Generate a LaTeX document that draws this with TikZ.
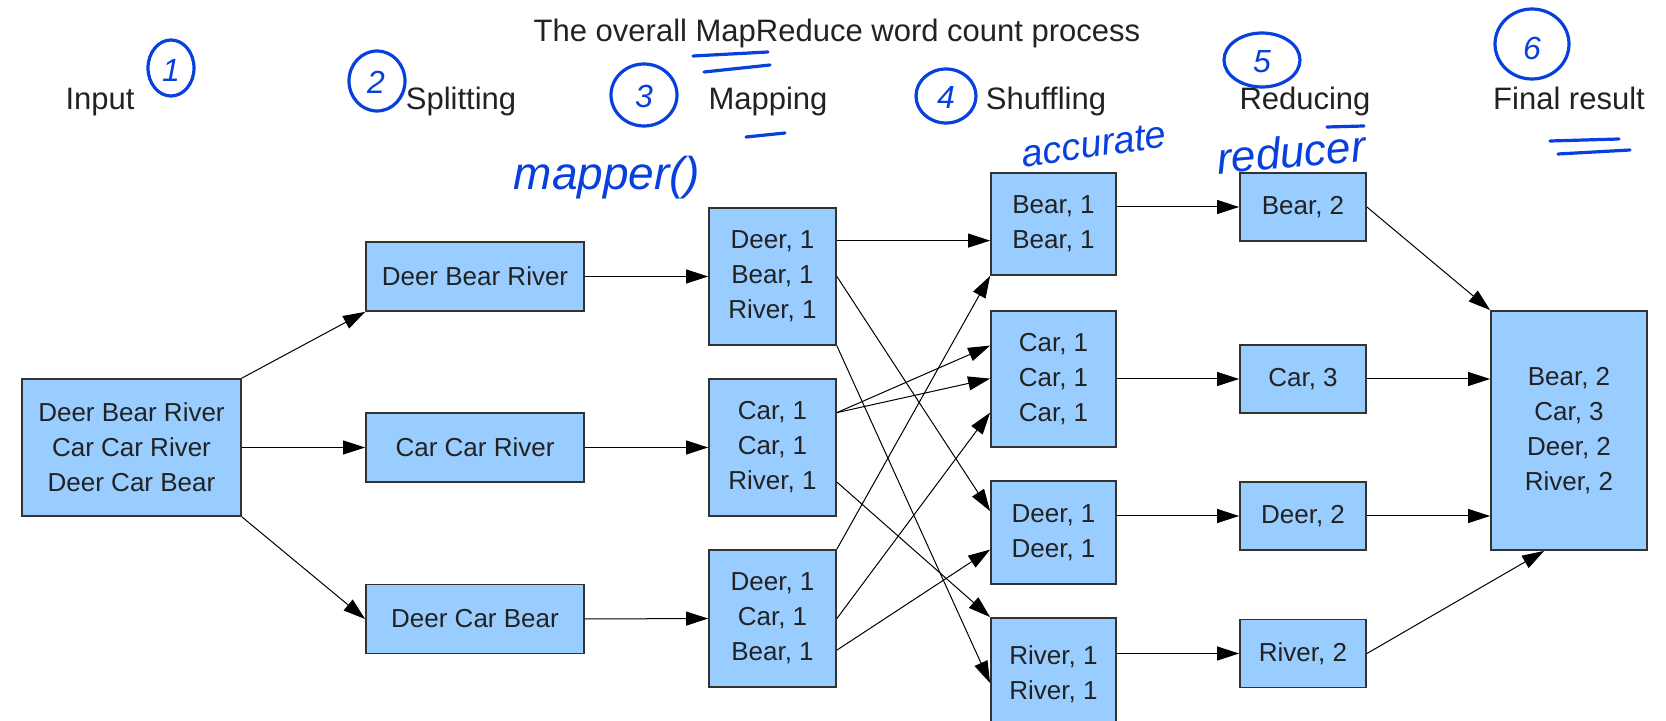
\documentclass[tikz,border=0pt]{standalone}
\usepackage{fontspec}
\setmainfont{Liberation Sans}
\usetikzlibrary{arrows.meta,calc}
\definecolor{boxfill}{HTML}{99CCFF}
\definecolor{boxline}{HTML}{333333}
\definecolor{ink}{HTML}{222222}
\definecolor{hand}{RGB}{8,64,222}
\begin{document}
\begin{tikzpicture}[x=0.5pt,y=-0.5pt,
  box/.style={draw=boxline,fill=boxfill,line width=0.9pt,inner sep=0pt,align=center,text=ink,font=\fontsize{13}{17.5}\selectfont},
  arr/.style={-{Triangle[length=11pt,width=7pt]},line width=0.5pt,black},
  hdr/.style={anchor=base,text=ink,inner sep=0pt,font=\fontsize{15.5}{18}\selectfont},
  handc/.style={draw=hand,line width=1.6pt,line cap=round},
  handt/.style={text=hand,inner sep=0pt,font=\itshape\fontsize{16}{16}\selectfont}
]
\useasboundingbox (0,0) rectangle (1666,721);

% titles
\node[hdr] (title) at (837,42) {The overall MapReduce word count process};
\node[hdr] (hin) at (100,110) {Input};
\node[hdr] (hsp) at (461,110) {Splitting};
\node[hdr] (hmp) at (768,110) {Mapping};
\node[hdr] (hsh) at (1046,110) {Shuffling};
\node[hdr] (hrd) at (1305,110) {Reducing};
\node[hdr] (hfr) at (1569,110) {Final result};

% boxes
\node[box,minimum width=109.5pt,minimum height=68.5pt] (inp) at (131.5,447.5) {Deer Bear River\\Car Car River\\Deer Car Bear};

\node[box,minimum width=109pt,minimum height=34.5pt] (s1) at (475,276.5) {Deer Bear River};
\node[box,minimum width=109pt,minimum height=34.5pt] (s2) at (475,447.5) {Car Car River};
\node[box,minimum width=109pt,minimum height=34.5pt] (s3) at (475,619) {Deer Car Bear};

\node[box,minimum width=63.5pt,minimum height=68.5pt] (m1) at (772.5,276.5) {Deer, 1\\Bear, 1\\River, 1};
\node[box,minimum width=63.5pt,minimum height=68.5pt] (m2) at (772.5,447.5) {Car, 1\\Car, 1\\River, 1};
\node[box,minimum width=63.5pt,minimum height=68.5pt] (m3) at (772.5,618.5) {Deer, 1\\Car, 1\\Bear, 1};

\node[box,minimum width=62.5pt,minimum height=51pt] (h1) at (1053.5,224) {Bear, 1\\Bear, 1};
\node[box,minimum width=62.5pt,minimum height=68pt] (h2) at (1053.5,379) {Car, 1\\Car, 1\\Car, 1};
\node[box,minimum width=62.5pt,minimum height=51.5pt] (h3) at (1053.5,532.5) {Deer, 1\\Deer, 1};
\node[box,minimum width=62.5pt,minimum height=56pt] (h4) at (1053.5,674) {River, 1\\River, 1};

\node[box,minimum width=63pt,minimum height=34pt] (r1) at (1303,207) {Bear, 2};
\node[box,minimum width=63pt,minimum height=34pt] (r2) at (1303,379) {Car, 3};
\node[box,minimum width=63pt,minimum height=34pt] (r3) at (1303,516) {Deer, 2};
\node[box,minimum width=63pt,minimum height=34pt] (r4) at (1303,653.5) {River, 2};

\node[box,minimum width=78pt,minimum height=119.5pt] (fin) at (1569,430.5) {Bear, 2\\Car, 3\\Deer, 2\\River, 2};

% input -> splitting
\draw[arr] (inp.north east) -- (s1.south west);
\draw[arr] (inp.east) -- (s2.west);
\draw[arr] (inp.south east) -- (s3.west);

% splitting -> mapping
\draw[arr] (s1.east) -- (m1.west);
\draw[arr] (s2.east) -- (m2.west);
\draw[arr] (s3.east) -- (m3.west);

% mapping -> shuffling
\coordinate (a1) at ($(m1.north east)+(0,33.5)$);
\draw[arr] (a1) -- (a1 -| h1.west);
\draw[arr] (m1.east) -- ($(h3.north west)+(0,31)$);
\draw[arr] (m1.south east) -- ($(h4.north west)+(0,66)$);
\coordinate (a2) at ($(m2.north east)+(0,34.5)$);
\draw[arr] (a2) -- ($(h2.north west)+(0,35.5)$);
\draw[arr] (a2) -- ($(h2.north west)+(0,68.5)$);
\draw[arr] ($(m2.north east)+(0,104)$) -- (h4.north west);
\draw[arr] (m3.north east) -- (h1.south west);
\draw[arr] (m3.east) -- ($(h2.north west)+(0,102.5)$);
\draw[arr] ($(m3.north east)+(0,101)$) -- ($(h3.north west)+(0,69.5)$);

% shuffling -> reducing
\draw[arr] (h1.east |- r1.west) -- (r1.west);
\draw[arr] (h2.east) -- (r2.west);
\draw[arr] (h3.east |- r3.west) -- (r3.west);
\draw[arr] (h4.east |- r4.west) -- (r4.west);

% reducing -> final
\draw[arr] (r1.east) -- (fin.north west);
\draw[arr] (r2.east) -- (r2.east -| fin.west);
\draw[arr] (r3.east) -- (r3.east -| fin.west);
\draw[arr] (r4.east) -- ($(fin.south west)+(54,0)$);

% handwritten annotations
\draw[handc] (171,68) ellipse [x radius=23, y radius=28];
\node[handt] (n1) at (171,70) {1};
\draw[handc] (377,81) ellipse [x radius=28, y radius=30];
\node[handt] (n2) at (376,82) {2};
\draw[handc] (644,95) ellipse [x radius=33, y radius=31];
\node[handt] (n3) at (644,96) {3};
\draw[handc] (946,96) ellipse [x radius=30, y radius=27];
\node[handt] (n4) at (946,97) {4};
\draw[handc] (1262,60) ellipse [x radius=38, y radius=27];
\node[handt] (n5) at (1262,62) {5};
\draw[handc] (1532,44) ellipse [x radius=37, y radius=35];
\node[handt] (n6) at (1532,48) {6};

\draw[handc] (693,56) -- (768,52);
\draw[handc] (704,72) -- (770,65);
\draw[handc] (746,137) -- (785,133);
\draw[handc] (1550,141) -- (1619,139);
\draw[handc] (1558,154) -- (1630,150);

\node[handt,font=\itshape\fontsize{23}{23}\selectfont] (mp) at (607,178) {mapper()};
\node[handt,font=\itshape\fontsize{19}{19}\selectfont,rotate=8] (acc) at (1094,145) {accurate};
\node[handt,font=\itshape\fontsize{22}{22}\selectfont,rotate=5] (red) at (1291,152) {reducer};
\draw[handc] (1327,127) -- (1364,126);
\end{tikzpicture}
\end{document}
